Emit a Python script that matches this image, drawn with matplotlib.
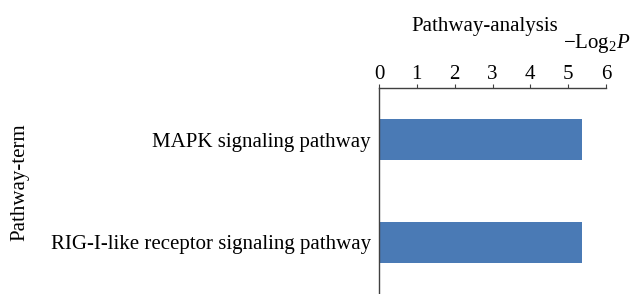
import matplotlib.pyplot as plt

terms = ["MAPK signaling pathway", "RIG-I-like receptor signaling pathway"]
values = [5.37, 5.37]
xticks = [0, 1, 2, 3, 4, 5, 6]

plt.rcParams['font.family'] = ['Liberation Serif', 'DejaVu Serif']
plt.rcParams['mathtext.fontset'] = 'custom'
plt.rcParams['mathtext.rm'] = 'Liberation Serif'
plt.rcParams['mathtext.it'] = 'Liberation Serif:italic'

fig = plt.figure(figsize=(6.39, 2.94), dpi=100)
ax = fig.add_axes([379 / 639, 0.0, 227 / 639, 1 - 88 / 294])

ax.barh(range(len(terms)), values, height=0.4, color="#4a7ab5")
ax.set_ylim(len(terms) - 0.5, -0.5)
ax.set_xlim(0, 6)
ax.set_xticks(xticks)
ax.set_yticks(range(len(terms)))
ax.set_yticklabels(terms, fontsize=15)

ax.xaxis.tick_top()
ax.tick_params(axis='x', labelsize=15, length=3, color="#404040", pad=0)
ax.tick_params(axis='y', length=0, pad=6)

for s in ["right", "bottom"]:
    ax.spines[s].set_visible(False)
for s in ["top", "left"]:
    ax.spines[s].set_color("#404040")
    ax.spines[s].set_linewidth(1.0)

fig.text(485 / 639, 1 - 27 / 294, "Pathway-analysis", ha="center", va="center", fontsize=15)
fig.text(631 / 639, 1 - 43 / 294, r"$\mathrm{-Log}_2\mathit{P}$", ha="right", va="center",
         fontsize=15)
fig.text(20 / 639, 1 - 182 / 294, "Pathway-term", ha="center", va="center",
         rotation=90, fontsize=15)

fig.savefig("out.png", dpi=100)
